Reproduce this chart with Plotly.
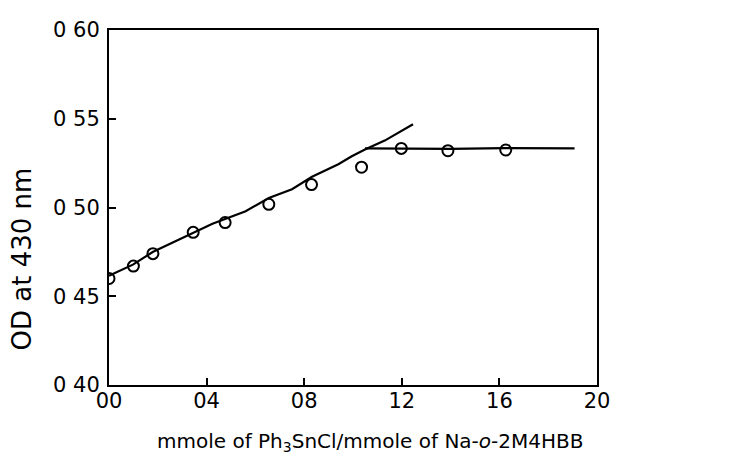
import plotly.graph_objects as go

# Measured points
point_x = [0.0, 0.10, 0.18, 0.345, 0.476, 0.655, 0.83, 1.035, 1.198, 1.389, 1.626]
point_y = [0.460, 0.467, 0.474, 0.486, 0.4915, 0.5018, 0.5129, 0.5227, 0.5333, 0.532, 0.5324]

# Hand-drawn rising line
rise_x = [0.0, 0.098, 0.179, 0.342, 0.424, 0.560, 0.655, 0.750, 0.832, 0.940, 0.995, 1.049, 1.130, 1.246]
rise_y = [0.4616, 0.4678, 0.4749, 0.4855, 0.4908, 0.4979, 0.5053, 0.5103, 0.5173, 0.5244, 0.5289, 0.5327, 0.5377, 0.5469]

# Plateau line
flat_x = [1.049, 1.40, 1.62, 1.908]
flat_y = [0.5333, 0.5330, 0.5335, 0.5333]

x_tickvals = [0.0, 0.4, 0.8, 1.2, 1.6, 2.0]
x_ticktext = ["00", "04", "08", "12", "16", "20"]
y_tickvals = [0.40, 0.45, 0.50, 0.55, 0.60]
y_ticktext = ["0 40", "0 45", "0 50", "0 55", "0 60"]

FONT = "DejaVu Sans"

fig = go.Figure()
fig.add_trace(go.Scatter(x=rise_x, y=rise_y, mode="lines",
                         line=dict(color="black", width=2.2), showlegend=False))
fig.add_trace(go.Scatter(x=flat_x, y=flat_y, mode="lines",
                         line=dict(color="black", width=2.2), showlegend=False))
fig.add_trace(go.Scatter(x=point_x, y=point_y, mode="markers",
                         marker=dict(symbol="circle-open", size=11, color="black",
                                     line=dict(width=2, color="black")),
                         showlegend=False))

fig.update_layout(
    width=732, height=463,
    margin=dict(l=101, r=143, t=10, b=86),
    paper_bgcolor="white", plot_bgcolor="white",
    font=dict(family=FONT, color="black", size=18),
)
fig.update_xaxes(range=[0, 2.0], tickvals=x_tickvals, ticktext=x_ticktext,
                 ticks="inside", ticklen=7, tickwidth=2, tickcolor="black",
                 showline=True, linecolor="black", linewidth=2, mirror=True,
                 showgrid=False, zeroline=False, ticklabelstandoff=-4,
                 ticklabeloverflow="allow",
                 tickfont=dict(size=21, family=FONT))
fig.update_yaxes(range=[0.40, 0.60], tickvals=y_tickvals, ticktext=y_ticktext,
                 ticks="inside", ticklen=7, tickwidth=2, tickcolor="black",
                 showline=True, linecolor="black", linewidth=2, mirror=True,
                 showgrid=False, zeroline=False, ticklabelstandoff=3,
                 ticklabeloverflow="allow",
                 tickfont=dict(size=21, family=FONT))

fig.add_annotation(text="mmole of Ph<sub>3</sub>SnCl/mmole of Na-<i>o</i>-2M4HBB",
                   xref="paper", yref="paper", x=0.536, y=-0.117,
                   xanchor="center", yanchor="top", showarrow=False,
                   font=dict(size=20, family=FONT))
fig.add_annotation(text="OD at 430 nm", textangle=-90,
                   xref="paper", yref="paper", x=-0.178, y=0.354,
                   xanchor="center", yanchor="middle", showarrow=False,
                   font=dict(size=26, family=FONT))

fig.write_html("out.html")
